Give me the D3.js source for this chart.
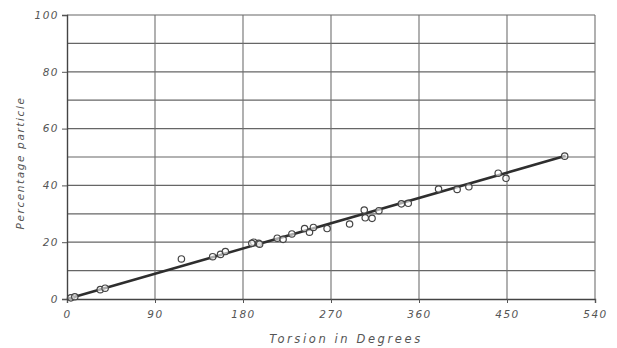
<!DOCTYPE html>
<html><head><meta charset="utf-8">
<script src="https://cdn.jsdelivr.net/npm/d3@7"></script>
<style>
body{margin:0;background:#fff;}
text{font-family:"DejaVu Sans",sans-serif;font-style:italic;fill:#555;}
</style></head>
<body><svg id="c" width="617" height="348"></svg>
<script>
const xTicks = [0, 90, 180, 270, 360, 450, 540];
const yTicks = [0, 20, 40, 60, 80, 100];
const yGrid = [10, 20, 30, 40, 50, 60, 70, 80, 90, 100];
const torsion = [4, 8, 34, 39, 117, 149, 157, 162, 191, 196, 189, 197, 215, 221, 230, 243, 248, 252, 266, 289, 304, 305, 312, 319, 342, 349, 380, 399, 411, 441, 449, 509];
const percent = [0.4, 0.8, 3.3, 3.8, 14.1, 14.9, 15.7, 16.7, 20.0, 19.6, 19.6, 19.3, 21.4, 21.0, 22.9, 24.8, 23.5, 25.2, 24.8, 26.4, 31.3, 28.6, 28.4, 31.1, 33.5, 33.7, 38.7, 38.6, 39.5, 44.3, 42.5, 50.3];
const fitX = [0, 510];
const fitY = [0, 50.4];

const svg = d3.select("#c");
const x = d3.scaleLinear().domain([0, 540]).range([67, 595]);
const y = d3.scaleLinear().domain([0, 100]).range([299, 15]);

// grid
svg.append("g").selectAll("line").data(yGrid).join("line")
  .attr("x1", x(0)).attr("x2", x(540)).attr("y1", d => y(d)).attr("y2", d => y(d))
  .attr("stroke", "#666").attr("stroke-width", 1.2);
svg.append("g").selectAll("line").data(xTicks.slice(1)).join("line")
  .attr("x1", d => x(d)).attr("x2", d => x(d)).attr("y1", y(0)).attr("y2", y(100))
  .attr("stroke", "#707070").attr("stroke-width", 1.1);

// axes
const xAxis = d3.axisBottom(x).tickValues(xTicks).tickSize(4).tickPadding(8).tickFormat(d3.format("d"));
const gx = svg.append("g").attr("transform", `translate(0,${y(0)})`).call(xAxis);
gx.select(".domain").attr("stroke", "#444").attr("stroke-width", 1.4);
gx.selectAll(".tick line").attr("stroke", "#555");
gx.selectAll("text").attr("font-size", 10.5).attr("letter-spacing", 1.5).attr("fill", "#555").style("font-family", "DejaVu Sans").style("font-style", "italic");

const yAxis = d3.axisLeft(y).tickValues(yTicks).tickSize(5).tickPadding(3).tickFormat(d3.format("d"));
const gy = svg.append("g").attr("transform", `translate(${x(0)},0)`).call(yAxis);
gy.select(".domain").attr("stroke", "#444").attr("stroke-width", 1.4);
gy.selectAll(".tick line").attr("stroke", "#555");
gy.selectAll("text").attr("font-size", 10.5).attr("letter-spacing", 1.5).attr("fill", "#555").style("font-family", "DejaVu Sans").style("font-style", "italic");

// fit line
svg.append("line")
  .attr("x1", x(fitX[0])).attr("y1", y(fitY[0])).attr("x2", x(fitX[1])).attr("y2", y(fitY[1]))
  .attr("stroke", "#2e2e2e").attr("stroke-width", 2.6);

// points
svg.append("g").selectAll("circle").data(torsion.map((t, i) => [t, percent[i]])).join("circle")
  .attr("cx", d => x(d[0])).attr("cy", d => y(d[1])).attr("r", 3.2)
  .attr("fill", "#fff").attr("fill-opacity", 0.6).attr("stroke", "#444").attr("stroke-width", 1.2);

// titles
svg.append("text").attr("x", 346).attr("y", 343).attr("text-anchor", "middle")
  .attr("font-size", 11.5).attr("letter-spacing", 2.6).text("Torsion in Degrees");
svg.append("text").attr("transform", "translate(24,163) rotate(-90)").attr("text-anchor", "middle")
  .attr("font-size", 10.5).attr("letter-spacing", 1.6).text("Percentage particle");
</script></body></html>
